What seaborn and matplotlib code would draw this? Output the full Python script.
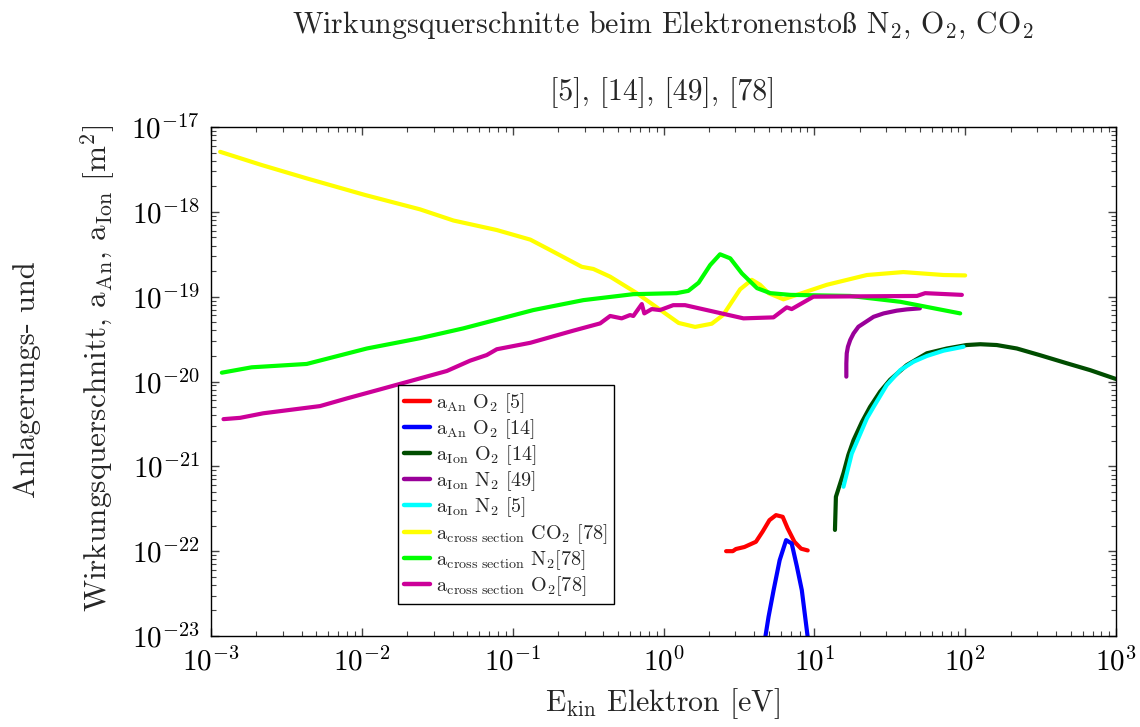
import matplotlib
matplotlib.use("Agg")
import matplotlib.pyplot as plt
import matplotlib.ticker as mticker
import seaborn as sns
import numpy as np

# --- electron energy [eV] and cross sections [m^2] ---
# attachment O2 [5]
an_o2_5_E = [2.60, 2.88, 3.02, 3.44, 4.10, 4.54, 5.04, 5.57, 6.17, 6.65, 7.38, 8.17, 9.04]
an_o2_5_s = [1.0e-22, 1.0e-22, 1.06e-22, 1.12e-22, 1.29e-22, 1.70e-22, 2.32e-22, 2.66e-22,
             2.54e-22, 1.86e-22, 1.29e-22, 1.07e-22, 1.02e-22]
# attachment O2 [14]
an_o2_14_E = [4.70, 4.97, 5.37, 5.89, 6.50, 7.08, 7.66, 8.26, 9.05]
an_o2_14_s = [9.0e-24, 1.68e-23, 3.47e-23, 7.83e-23, 1.35e-22, 1.23e-22, 6.61e-23, 3.47e-23, 9.5e-24]
# ionisation O2 [14]
ion_o2_14_E = [13.7, 13.9, 15.6, 16.8, 18.2, 20.7, 23.4, 27.3, 31.8, 41.0, 55.7, 75.7, 102,
               126, 162, 220, 314, 472, 675, 1000]
ion_o2_14_s = [1.78e-22, 4.37e-22, 8.32e-22, 1.36e-21, 2.04e-21, 3.35e-21, 5.01e-21, 7.59e-21,
               1.05e-20, 1.56e-20, 2.15e-20, 2.45e-20, 2.69e-20, 2.75e-20, 2.69e-20, 2.45e-20,
               2.04e-20, 1.64e-20, 1.36e-20, 1.07e-20]
# ionisation N2 [49]
ion_n2_49_E = [16.3, 16.3, 16.4, 16.7, 17.3, 18.2, 19.6, 24.7, 28.8, 35.2, 41.0, 50.1]
ion_n2_49_s = [1.14e-20, 1.63e-20, 2.15e-20, 2.57e-20, 3.09e-20, 3.69e-20, 4.42e-20, 5.79e-20,
               6.35e-20, 6.84e-20, 7.08e-20, 7.28e-20]
# ionisation N2 [5]
ion_n2_5_E = [15.6, 17.7, 22.3, 24.7, 30.2, 37.1, 45.4, 55.7, 71.9, 97.5]
ion_n2_5_s = [5.75e-22, 1.41e-21, 3.67e-21, 5.01e-21, 9.08e-21, 1.36e-20, 1.71e-20, 2.0e-20,
              2.31e-20, 2.57e-20]
# total cross section CO2 [78]
cs_co2_E = [0.00115, 0.00217, 0.00431, 0.0105, 0.0243, 0.0405, 0.0785, 0.131, 0.177, 0.287,
            0.343, 0.443, 0.665, 1.26, 1.62, 2.09, 2.49, 3.22, 3.85, 4.37, 4.97, 6.24, 8.91,
            12.1, 22.3, 38.9, 71.9, 100]
cs_co2_s = [5.1e-18, 3.56e-18, 2.48e-18, 1.58e-18, 1.07e-18, 7.9e-19, 6.1e-19, 4.7e-19,
            3.55e-19, 2.25e-19, 2.12e-19, 1.72e-19, 1.10e-19, 4.9e-20, 4.4e-20, 4.8e-20,
            6.1e-20, 1.22e-19, 1.58e-19, 1.38e-19, 1.10e-19, 9.3e-20, 1.15e-19, 1.38e-19,
            1.80e-19, 1.95e-19, 1.80e-19, 1.78e-19]
# total cross section N2 [78]
cs_n2_E = [0.00118, 0.00186, 0.00431, 0.0108, 0.0243, 0.0471, 0.137, 0.294, 0.631, 1.22,
           1.46, 1.71, 2.04, 2.37, 2.77, 3.31, 4.17, 5.11, 6.92, 17.3, 37.2, 92.7]
cs_n2_s = [1.27e-20, 1.47e-20, 1.61e-20, 2.45e-20, 3.24e-20, 4.23e-20, 6.95e-20, 9.1e-20,
           1.07e-19, 1.10e-19, 1.17e-19, 1.46e-19, 2.36e-19, 3.16e-19, 2.83e-19, 1.88e-19,
           1.26e-19, 1.10e-19, 1.05e-19, 1.02e-19, 8.7e-20, 6.35e-20]
# total cross section O2 [78]
cs_o2_E = [0.00121, 0.00156, 0.00222, 0.00528, 0.00794, 0.0132, 0.0366, 0.0522, 0.0673,
           0.0785, 0.131, 0.253, 0.380, 0.443, 0.528, 0.600, 0.631, 0.718, 0.746, 0.836,
           0.948, 1.16, 1.39, 3.39, 5.36, 6.56, 7.08, 9.86, 47.9, 54.3, 95.1]
cs_o2_s = [3.6e-21, 3.73e-21, 4.22e-21, 5.13e-21, 6.31e-21, 8.07e-21, 1.33e-20, 1.76e-20,
           2.05e-20, 2.40e-20, 2.86e-20, 3.98e-20, 4.84e-20, 5.92e-20, 5.55e-20, 6.07e-20,
           5.92e-20, 8.18e-20, 6.35e-20, 7.14e-20, 6.95e-20, 7.94e-20, 7.94e-20, 5.55e-20,
           5.70e-20, 7.48e-20, 7.14e-20, 1.0e-19, 1.02e-19, 1.10e-19, 1.05e-19]

series = [
    (an_o2_5_E, an_o2_5_s, "#ff0000", r"$\mathrm{a}_{\mathrm{An}}\ \mathrm{O}_2$ [5]"),
    (an_o2_14_E, an_o2_14_s, "#0000ff", r"$\mathrm{a}_{\mathrm{An}}\ \mathrm{O}_2$ [14]"),
    (ion_o2_14_E, ion_o2_14_s, "#004d00", r"$\mathrm{a}_{\mathrm{Ion}}\ \mathrm{O}_2$ [14]"),
    (ion_n2_49_E, ion_n2_49_s, "#990099", r"$\mathrm{a}_{\mathrm{Ion}}\ \mathrm{N}_2$ [49]"),
    (ion_n2_5_E, ion_n2_5_s, "#00ffff", r"$\mathrm{a}_{\mathrm{Ion}}\ \mathrm{N}_2$ [5]"),
    (cs_co2_E, cs_co2_s, "#ffff00", r"$\mathrm{a}_{\mathrm{cross\ section}}\ \mathrm{CO}_2$ [78]"),
    (cs_n2_E, cs_n2_s, "#00ff00", r"$\mathrm{a}_{\mathrm{cross\ section}}\ \mathrm{N}_2$[78]"),
    (cs_o2_E, cs_o2_s, "#cc0099", r"$\mathrm{a}_{\mathrm{cross\ section}}\ \mathrm{O}_2$[78]"),
]

sns.set_style("ticks")
plt.rcParams["font.family"] = ["cmr10", "DejaVu Serif"]
plt.rcParams["mathtext.fontset"] = "cm"
plt.rcParams["axes.unicode_minus"] = False
plt.rcParams["axes.formatter.use_mathtext"] = True

fig = plt.figure(figsize=(11.4, 7.27), dpi=100)
ax = fig.add_axes([211 / 1140, 1 - 636 / 727, (1116 - 211) / 1140, (636 - 127) / 727])

for E, s, c, lab in series:
    sns.lineplot(x=E, y=s, ax=ax, color=c, linewidth=3.0, label=lab,
                 estimator=None, sort=False)

ax.set_xscale("log")
ax.set_yscale("log")
ax.set_xlim(1e-3, 1e3)
ax.set_ylim(1e-23, 1e-17)
ax.set_xlabel("")
ax.set_ylabel("")

fmt = mticker.FuncFormatter(lambda v, p: r"$10^{%d}$" % int(round(np.log10(v))))
ax.xaxis.set_major_formatter(fmt)
ax.yaxis.set_major_formatter(fmt)
ax.xaxis.set_major_locator(mticker.LogLocator(base=10, numticks=10))
ax.yaxis.set_major_locator(mticker.LogLocator(base=10, numticks=10))
ax.xaxis.set_minor_locator(mticker.LogLocator(base=10, subs=np.arange(2, 10), numticks=20))
ax.yaxis.set_minor_locator(mticker.LogLocator(base=10, subs=np.arange(2, 10), numticks=20))
ax.xaxis.set_minor_formatter(mticker.NullFormatter())
ax.yaxis.set_minor_formatter(mticker.NullFormatter())
ax.xaxis.offsetText.set_visible(False)
ax.yaxis.offsetText.set_visible(False)
ax.tick_params(which="both", direction="in", top=True, right=True, colors="#444444",
               labelcolor="black")
ax.tick_params(which="major", length=6, width=1, labelsize=21, pad=8)
ax.tick_params(which="minor", length=3.5, width=0.8)
for sp in ax.spines.values():
    sp.set_color("black")
    sp.set_linewidth(1.0)

leg = ax.legend(loc="lower left", bbox_to_anchor=(0.2066, 0.0629), borderaxespad=0,
                fontsize=14.5, frameon=True, fancybox=False, framealpha=1,
                edgecolor="black", handlelength=1.3, handletextpad=0.3,
                labelspacing=0.12, borderpad=0.3)
leg.get_frame().set_linewidth(1.0)
for h in leg.get_lines():
    h.set_linewidth(3.2)

fig.text(0.5815, 1 - 25 / 727,
         r"Wirkungsquerschnitte beim Elektronensto$\mathrm{ß}$ $\mathrm{N}_2$, $\mathrm{O}_2$, $\mathrm{CO}_2$",
         ha="center", va="center", fontsize=21.5)
fig.text(0.5815, 1 - 93 / 727, "[5], [14], [49], [78]", ha="center", va="center", fontsize=21.5)
fig.text(0.5815, 1 - 704 / 727, r"$\mathrm{E}_{\mathrm{kin}}$ Elektron [eV]",
         ha="center", va="center", fontsize=21.5)
fig.text(27 / 1140, 1 - 380 / 727, "Anlagerungs- und", rotation=90,
         ha="center", va="center", fontsize=22)
fig.text(98 / 1140, 1 - 368 / 727,
         r"Wirkungsquerschnitt, $\mathrm{a}_{\mathrm{An}}$, $\mathrm{a}_{\mathrm{Ion}}$ [$\mathrm{m}^2$]",
         rotation=90, ha="center", va="center", fontsize=22.5)

fig.savefig("out.png", dpi=100)
